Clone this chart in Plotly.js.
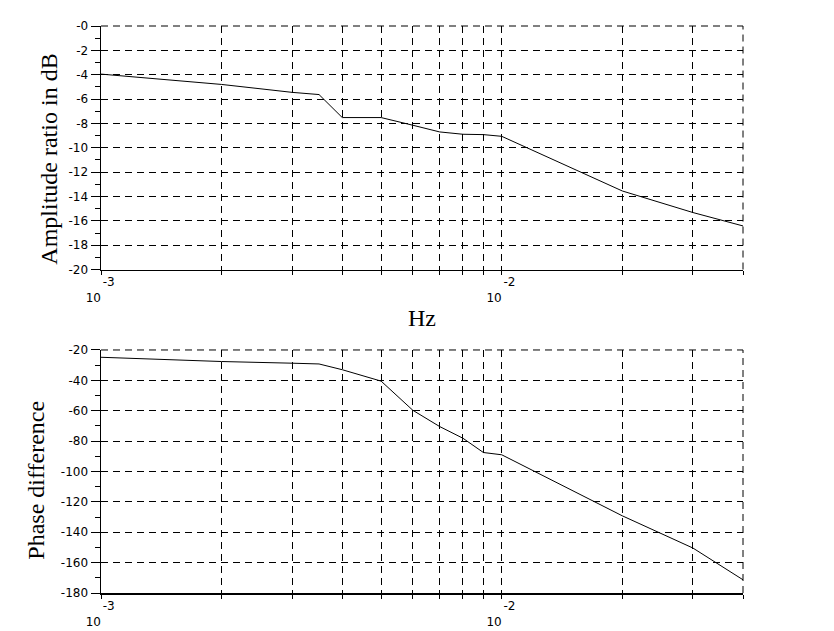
<!DOCTYPE html>
<html>
<head>
<meta charset="utf-8">
<script src="https://cdn.plot.ly/plotly-3.0.1.min.js"></script>
<style>html,body{margin:0;padding:0;background:#fff;}#chart{width:834px;height:631px;}</style>
</head>
<body>
<div id="chart"></div>
<script>
// Frequencies (Hz)
const freq = [0.001, 0.002, 0.003, 0.0035, 0.004, 0.005, 0.006, 0.007, 0.008, 0.009, 0.01, 0.02, 0.03, 0.04];
// Amplitude ratio (dB)
const amplitudeDb = [-3.95, -4.8, -5.45, -5.63, -7.52, -7.52, -8.15, -8.7, -8.89, -8.92, -9.06, -13.55, -15.32, -16.42];
// Phase difference (degrees)
const phaseDeg = [-24.8, -27.6, -28.7, -29.2, -33.0, -40.5, -59.7, -70.4, -78.1, -87.5, -89.0, -129.2, -150.4, -171.3];

// Axis ticks
const xTickVals = [0.001, 0.002, 0.003, 0.004, 0.005, 0.006, 0.007, 0.008, 0.009, 0.01, 0.02, 0.03, 0.04];
const NB = '\u00a0';
const xTickText = [NB+NB+NB+NB+'-3<br>10'+NB+NB+NB+NB, '', '', '', '', '', '', '', '', NB+NB+NB+NB+'-2<br>10'+NB+NB+NB+NB, '', '', ''];
const ampTickVals = [0, -2, -4, -6, -8, -10, -12, -14, -16, -18, -20];
const ampTickText = ['-0', '-2', '-4', '-6', '-8', '-10', '-12', '-14', '-16', '-18', '-20'];
const ampMinorVals = [-1, -3, -5, -7, -9, -11, -13, -15, -17, -19];
const phaseTickVals = [-20, -40, -60, -80, -100, -120, -140, -160, -180];
const phaseTickText = ['-20', '-40', '-60', '-80', '-100', '-120', '-140', '-160', '-180'];
const phaseMinorVals = [-30, -50, -70, -90, -110, -130, -150, -170];

const tickFont = {family: 'DejaVu Sans', size: 12, color: '#000'};
const titleFont = {family: 'Liberation Serif', size: 24, color: '#000'};
const dashGrid = '7px,5px';

function xAxis(anchor) {
  return {
    type: 'log', range: [-3, Math.log10(0.04)], anchor: anchor,
    tickmode: 'array', tickvals: xTickVals, ticktext: xTickText,
    ticks: 'outside', ticklen: 4, tickcolor: '#000', tickwidth: 1,
    ticklabelstandoff: -3,
    showgrid: true, gridcolor: '#000', gridwidth: 1, griddash: dashGrid,
    showline: true, linecolor: '#000', linewidth: 1.5, mirror: false,
    zeroline: false, tickfont: tickFont, fixedrange: true
  };
}
function yAxis(anchor, domain, range, vals, text, minorVals) {
  return {
    domain: domain, range: range, anchor: anchor,
    tickmode: 'array', tickvals: vals, ticktext: text,
    ticks: 'outside', ticklen: 9, tickcolor: '#000', tickwidth: 1,
    minor: {tickmode: 'array', tickvals: minorVals, ticks: 'outside', ticklen: 5, tickcolor: '#000', showgrid: false},
    showgrid: true, gridcolor: '#000', gridwidth: 1, griddash: dashGrid,
    showline: true, linecolor: '#000', linewidth: 1.5, mirror: false,
    zeroline: false, tickfont: tickFont, fixedrange: true
  };
}

const traces = [
  {x: freq, y: amplitudeDb, type: 'scatter', mode: 'lines', line: {color: '#000', width: 1}, xaxis: 'x', yaxis: 'y', hoverinfo: 'skip'},
  {x: freq, y: phaseDeg, type: 'scatter', mode: 'lines', line: {color: '#000', width: 1}, xaxis: 'x2', yaxis: 'y2', hoverinfo: 'skip'}
];

// dashed frame edges (top and right) for each subplot
const frameShapes = [];
[['x', 'y'], ['x2', 'y2']].forEach(function (p) {
  const base = {type: 'line', xref: p[0] + ' domain', yref: p[1] + ' domain', layer: 'below', line: {color: '#000', width: 1, dash: dashGrid}};
  frameShapes.push(Object.assign({}, base, {x0: 0, x1: 1, y0: 1, y1: 1}));
  frameShapes.push(Object.assign({}, base, {x0: 1, x1: 1, y0: 0, y1: 1}));
});

const layout = {
  width: 834, height: 631,
  margin: {l: 101, r: 91, t: 26, b: 38},
  paper_bgcolor: '#fff', plot_bgcolor: '#fff',
  showlegend: false,
  xaxis: xAxis('y'),
  yaxis: yAxis('x', [0.5705, 1], [-20, 0], ampTickVals, ampTickText, ampMinorVals),
  xaxis2: xAxis('y2'),
  yaxis2: yAxis('x2', [0, 0.4286], [-180, -20], phaseTickVals, phaseTickText, phaseMinorVals),
  shapes: frameShapes,
  annotations: [
    {text: 'Amplitude ratio in dB', xref: 'paper', yref: 'paper', x: -0.081, y: 0.766, xanchor: 'center', yanchor: 'middle', textangle: -90, showarrow: false, font: titleFont},
    {text: 'Phase difference', xref: 'paper', yref: 'paper', x: -0.1005, y: 0.199, xanchor: 'center', yanchor: 'middle', textangle: -90, showarrow: false, font: titleFont},
    {text: 'Hz', xref: 'paper', yref: 'paper', x: 0.5, y: 0.485, xanchor: 'center', yanchor: 'middle', showarrow: false, font: titleFont}
  ]
};

Plotly.newPlot('chart', traces, layout, {displayModeBar: false, staticPlot: true});
</script>
</body>
</html>
